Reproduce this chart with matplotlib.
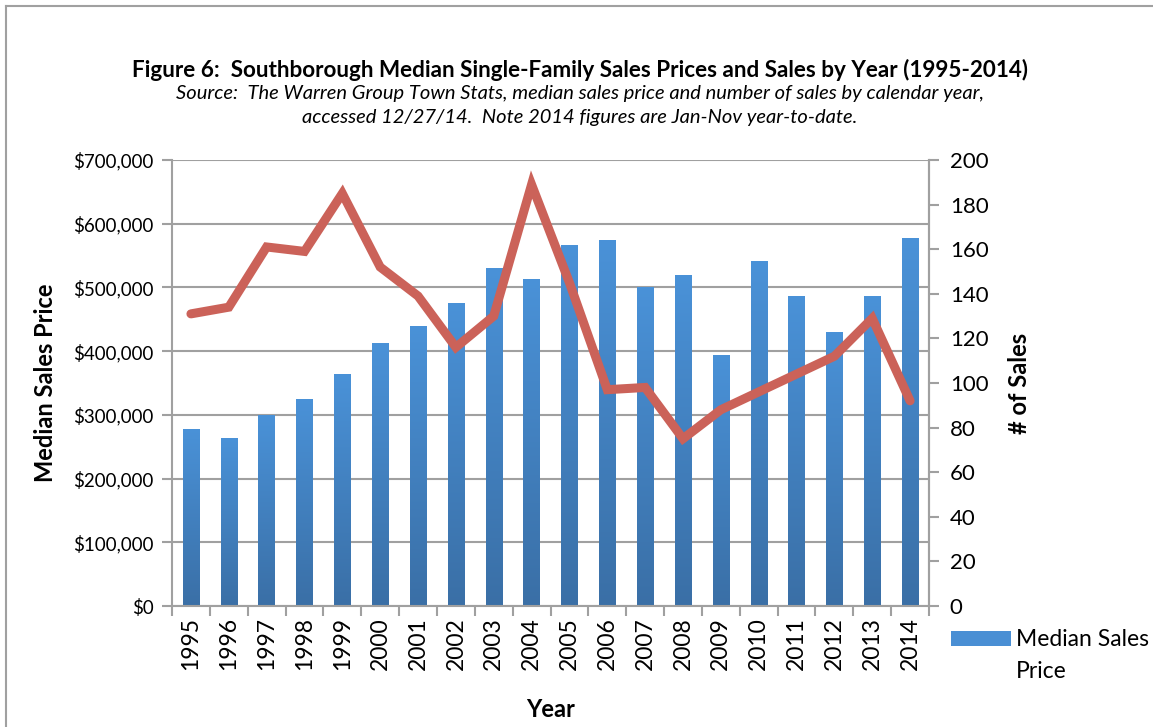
import matplotlib.pyplot as plt
import matplotlib.ticker as mticker
import numpy as np

plt.rcParams['font.family'] = ['Lato', 'DejaVu Sans']

years = [str(y) for y in range(1995, 2015)]
price = [278000, 264000, 300000, 325000, 364000, 412000, 440000, 476000, 530000, 514000,
         566000, 575000, 500000, 520000, 394000, 541000, 487000, 430000, 486000, 578000]
sales = [131, 134, 161, 159, 185, 152, 139, 116, 130, 189,
         145, 97, 98, 75, 88, 96, 104, 112, 129, 92]

grey = '#a0a0a0'

fig = plt.figure(figsize=(11.53, 7.27), dpi=100)
ax = fig.add_axes([172/1153, 1-606/727, (929-172)/1153, (606-160)/727])
x = np.arange(len(years))

# bars with a vertical gradient
bars = ax.bar(x, price, width=0.43, color='#4a8fd4', zorder=2, label='Median Sales Price')
grad = np.linspace(0, 1, 256).reshape(-1, 1)
cmap = plt.matplotlib.colors.LinearSegmentedColormap.from_list('b', ['#3a6fa6', '#4a92d8'])
for b in bars:
    im = ax.imshow(grad, cmap=cmap, aspect='auto', origin='lower', zorder=2,
                   extent=[b.get_x(), b.get_x()+b.get_width(), 0, b.get_height()])
    im.set_clip_path(b)
ax.set_xlim(-0.5, len(years)-0.5)
ax.set_ylim(0, 700000)
ax.set_yticks(np.arange(0, 700001, 100000))
ax.yaxis.set_major_formatter(mticker.FuncFormatter(lambda v, p: '${:,.0f}'.format(v)))
ax.grid(axis='y', color=grey, linewidth=1.5, zorder=0)
ax.set_axisbelow(True)
ax.set_xticks(x)
ax.set_xticklabels(years, rotation=90, fontsize=16.5)
ax.tick_params(axis='x', length=0, pad=8)
ax.set_xticks(np.arange(-0.5, len(years)), minor=True)
ax.tick_params(axis='x', which='minor', length=7, color=grey, width=1.5)
ax.tick_params(axis='y', length=7, color=grey, width=1.5, labelsize=13.5, pad=6)
ax.spines['top'].set_visible(False)
for s in ['left', 'bottom', 'right']:
    ax.spines[s].set_color(grey)
    ax.spines[s].set_linewidth(1.5)
ax.set_ylabel('Median Sales Price', fontsize=17, fontweight='bold', labelpad=12)
ax.set_xlabel('Year', fontsize=17, fontweight='bold', labelpad=20)

ax2 = ax.twinx()
ax2.plot(x, sales, color='#cb6259', linewidth=6.5, solid_joinstyle='miter', solid_capstyle='round', zorder=3)
ax2.set_ylim(0, 200)
ax2.set_yticks(np.arange(0, 201, 20))
ax2.tick_params(axis='y', length=7, color=grey, width=1.5, labelsize=16, pad=8)
for s in ['top', 'left', 'bottom']:
    ax2.spines[s].set_visible(False)
ax2.spines['right'].set_color(grey)
ax2.spines['right'].set_linewidth(1.5)
ax2.set_ylabel('# of Sales', fontsize=17, fontweight='bold', labelpad=14)

# legend: patch lined up with the first line of the wrapped label
leg = fig.legend(handles=[bars], labels=['Median Sales'], loc='center left',
                 bbox_to_anchor=(940/1153, 1-640/727), frameon=False, fontsize=16.5,
                 handlelength=2.6, handleheight=0.6, handletextpad=0.2, borderpad=0.0)
fig.canvas.draw()
tx = leg.get_texts()[0].get_window_extent().x0
fig.text(tx/fig.bbox.width, 1-672/727, 'Price', ha='left', va='center', fontsize=16.5)

fig.text(0.503, 1-70/727, 'Figure 6:  Southborough Median Single-Family Sales Prices and Sales by Year (1995-2014)',
         ha='center', va='center', fontsize=16.2, fontweight='bold')
fig.text(0.503, 1-94/727, 'Source:  The Warren Group Town Stats, median sales price and number of sales by calendar year,',
         ha='center', va='center', fontsize=14.5, style='italic')
fig.text(0.503, 1-118/727, 'accessed 12/27/14.  Note 2014 figures are Jan-Nov year-to-date.',
         ha='center', va='center', fontsize=14.5, style='italic')

# page border (left and top)
fig.add_artist(plt.Line2D([6/1153, 6/1153], [0, 1-6/727], color=grey, linewidth=1.5))
fig.add_artist(plt.Line2D([6/1153, 1], [1-6/727, 1-6/727], color=grey, linewidth=1.5))

fig.savefig('out.png', dpi=100)
